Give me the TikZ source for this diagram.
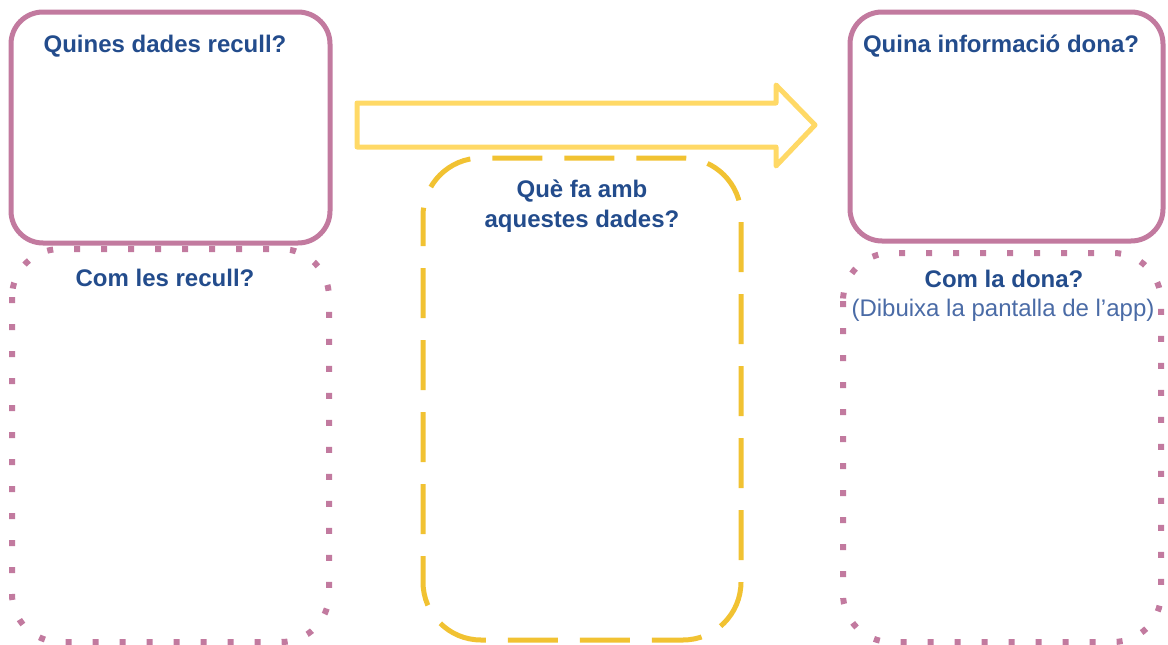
\documentclass[tikz,border=0pt]{standalone}
\usepackage{fontspec}
\setmainfont{Liberation Sans}
\definecolor{pinkc}{HTML}{C27A9F}
\definecolor{arrowy}{HTML}{FFD966}
\definecolor{dashy}{HTML}{F1C232}
\definecolor{txtb}{HTML}{234C8C}
\definecolor{txtl}{HTML}{4A6BA6}
\begin{document}
\begin{tikzpicture}[x=1pt,y=-1pt,
  solidbox/.style={draw=pinkc,line width=5pt,rounded corners=32pt},
  dotbox/.style={draw=pinkc,line width=6pt,dash pattern=on 6pt off 21pt,rounded corners=48pt},
  dashbox/.style={draw=dashy,line width=5pt,dash pattern=on 50pt off 22pt,dash phase=20pt,rounded corners=58pt},
  bigarrow/.style={draw=arrowy,line width=5pt,line join=round},
  title/.style={font=\fontsize{24}{30}\selectfont\bfseries,text=txtb,align=center,inner sep=0pt},
  sub/.style={font=\fontsize{24}{29}\selectfont,text=txtl,inner sep=0pt}]
\useasboundingbox (0,0) rectangle (1168,645);
% left column
\draw[solidbox] (11,12) rectangle (330,243);
\draw[dotbox] (12,249) rectangle (329,642);
\node[title] (q1) at (165,46) {Quines dades recull?};
\node[title] (q2) at (165,278) {Com les recull?};
% middle
\draw[dashbox] (423,158) rectangle (741,640);
\node[title] (q3) at (582,206) {Què fa amb\\aquestes dades?};
\draw[bigarrow] (357,103) -- (776,103) -- (776,85) -- (815,125) -- (776,166) -- (776,147) -- (357,147) -- cycle;
% right column
\draw[solidbox] (850,12) rectangle (1163,241);
\draw[dotbox] (843,253) rectangle (1161,642);
\node[title] (q4) at (1001,46) {Quina informació dona?};
\node[title] (q5) at (1004,279) {Com la dona?};
\node[sub] (s5) at (1003,310) {(Dibuixa la pantalla de l’app)};
\end{tikzpicture}
\end{document}
